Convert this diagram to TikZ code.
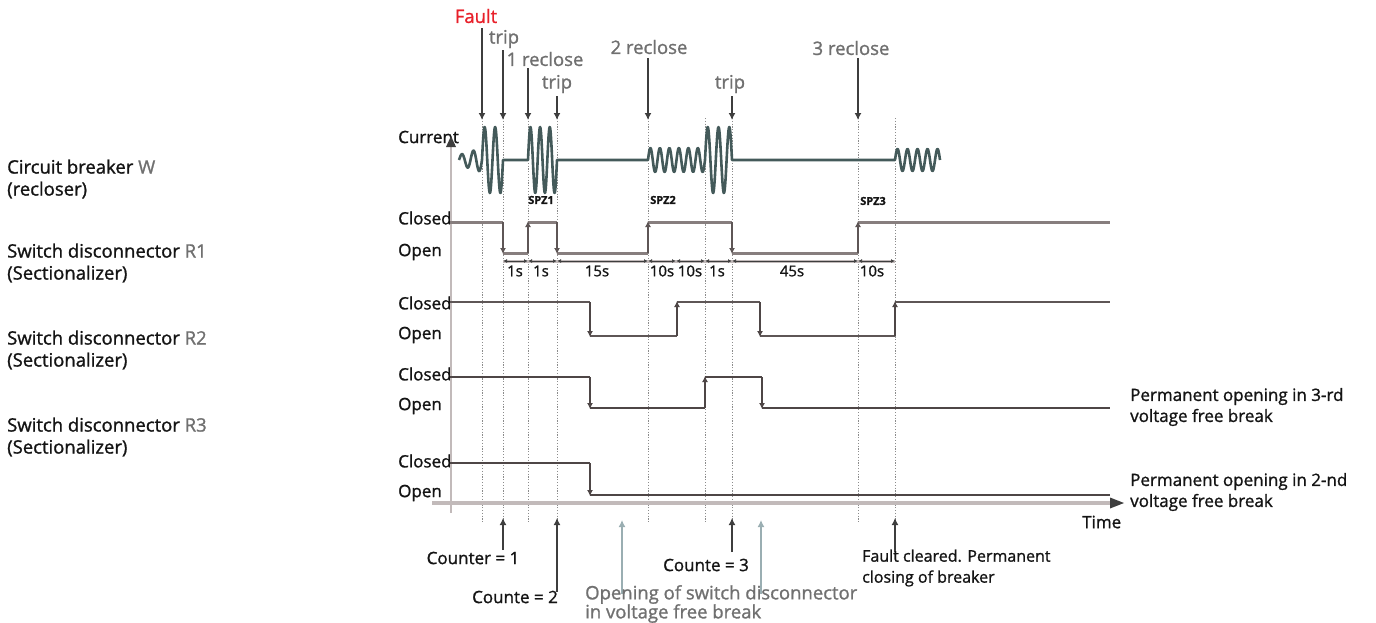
\documentclass[tikz,border=0pt]{standalone}
\usepackage{fontspec}
\setmainfont{Open Sans}[FakeBold=1.2]
\usetikzlibrary{arrows.meta}
\definecolor{txt}{HTML}{141414}
\definecolor{lbl}{HTML}{707070}
\definecolor{faultred}{HTML}{E8202A}
\definecolor{wave}{HTML}{445A5A}
\definecolor{axisgray}{HTML}{C2BABA}
\definecolor{dotgray}{HTML}{8C8C8C}
\definecolor{rowA}{HTML}{877E7E}
\definecolor{rowB}{HTML}{5E5656}
\definecolor{rowC}{HTML}{4E4646}
\definecolor{arrdark}{HTML}{3E3E3E}
\definecolor{openblue}{HTML}{9AAEB2}
\tikzset{
  lab/.style={font=\fontsize{17}{21}\selectfont, text=txt, inner sep=0pt, align=left},
  biglab/.style={font=\fontsize{18.5}{22}\selectfont, text=txt, inner sep=0pt, align=left},
  evlab/.style={font=\fontsize{18.5}{22}\selectfont, text=lbl, inner sep=0pt},
  small/.style={font=\fontsize{15}{18}\selectfont, text=txt, inner sep=0pt},
  spz/.style={font=\fontsize{11}{13}\selectfont\bfseries, text=txt, inner sep=0pt},
  dotline/.style={dotgray, line width=0.9pt, dash pattern=on 1.2pt off 1.6pt},
  evarrow/.style={arrdark, line width=2.2pt, -{Latex[length=7pt,width=7pt]}},
  uparrow/.style={arrdark, line width=2.2pt, -{Latex[length=7pt,width=7pt]}},
  statearr/.style={line width=2pt, -{Latex[length=6pt,width=6pt]}},
  tarr/.style={axisgray, line width=3pt},
  ttip/.style={arrdark, line width=0.6pt, {Latex[length=3.5pt,width=4pt]}-{Latex[length=3.5pt,width=4pt]}},
}
\begin{document}
\begin{tikzpicture}[x=1pt,y=-1pt]
\useasboundingbox (0,0) rectangle (1376,622);

% left labels
\node[biglab, anchor=west] (lw) at (7,179) {Circuit breaker {\color{lbl}W}\\(recloser)};
\node[biglab, anchor=west] (l1) at (7,263) {Switch disconnector {\color{lbl}R1}\\(Sectionalizer)};
\node[biglab, anchor=west] (l2) at (7,350) {Switch disconnector {\color{lbl}R2}\\(Sectionalizer)};
\node[biglab, anchor=west] (l3) at (7,437) {Switch disconnector {\color{lbl}R3}\\(Sectionalizer)};

% row labels
\node[lab, anchor=west] (cur) at (398,137) {Current};
\node[lab, anchor=west] (c0) at (398,218) {Closed};
\node[lab, anchor=west] (o0) at (398,252) {Open};
\node[lab, anchor=west] (c1) at (398,303) {Closed};
\node[lab, anchor=west] (o1) at (398,335) {Open};
\node[lab, anchor=west] (c2) at (398,374) {Closed};
\node[lab, anchor=west] (o2) at (398,406) {Open};
\node[lab, anchor=west] (c3) at (398,461) {Closed};
\node[lab, anchor=west] (o3) at (398,493) {Open};

% dotted verticals
\foreach \xx in {482,503,528,557,648,705,732,858,895}
  \draw[dotline] (\xx,118) -- (\xx,523);

% axes
\coordinate (ax0) at (451,513);
\coordinate (ax1) at (451,136);
\coordinate (tx0) at (432,503);
\coordinate (tx1) at (1124,503);
\draw[axisgray, line width=2.5pt] (ax0) -- (451,146);
\fill[arrdark] (451,136) -- (446,147) -- (456,147) -- cycle;
\draw[axisgray, line width=3.5pt] (tx0) -- (1112,503);
\fill[arrdark] (1124,503) -- (1110,497.5) -- (1110,508.5) -- cycle;
\node[lab, anchor=west] (time) at (1082,522) {Time};

% current waveform
\draw[wave, line width=2.6pt, line join=round]
  plot[domain=459:482, samples=60] (\x, {160 - (5+0.3043*(\x-459))*sin((\x-459)*31.304)})
  -- plot[domain=482:503, samples=60] (\x, {160 - 33*sin((\x-482)*34.286)})
  -- (528,160)
  -- plot[domain=528:557, samples=80] (\x, {160 - 33*sin((\x-528)*37.241)})
  -- (648,160)
  -- plot[domain=648:705, samples=150] (\x, {160 - 12*sin((\x-648)*37.895)})
  -- plot[domain=705:732, samples=80] (\x, {160 - 33*sin((\x-705)*33.333)})
  -- (895,160)
  -- plot[domain=895:940, samples=120] (\x, {160 - 11*sin((\x-895)*36)});

% event arrows (top)
\node[font=\fontsize{18.5}{22}\selectfont, text=faultred, inner sep=0pt] (ef) at (476,16) {Fault};
\node[evlab] (et1) at (504,39) {trip};
\node[evlab] (er1) at (545,59) {1 reclose};
\node[evlab] (et2) at (557,84) {trip};
\node[evlab] (er2) at (649,47) {2 reclose};
\node[evlab] (et3) at (730,84) {trip};
\node[evlab] (er3) at (851,48) {3 reclose};
\draw[evarrow] (482,28) -- (482,120);
\draw[evarrow] (503,50) -- (503,120);
\draw[evarrow] (528,68) -- (528,120);
\draw[evarrow] (557,96) -- (557,120);
\draw[evarrow] (648,58) -- (648,120);
\draw[evarrow] (732,96) -- (732,120);
\draw[evarrow] (858,58) -- (858,120);

% SPZ labels
\node[spz] (s1) at (541,200) {SPZ1};
\node[spz] (s2) at (663,200) {SPZ2};
\node[spz] (s3) at (873,201) {SPZ3};

% breaker W row
\draw[rowA, line width=3pt, line join=miter]
  (450,222) -- (503,222) (503,253) -- (528,253) (528,222) -- (557,222) (557,253) -- (648,253)
  (648,222) -- (732,222) (732,253) -- (858,253) (858,222) -- (1110,222);
\draw[statearr, rowB] (503,222) -- (503,254);
\draw[statearr, rowB] (528,253) -- (528,221);
\draw[statearr, rowB] (557,222) -- (557,254);
\draw[statearr, rowB] (648,253) -- (648,221);
\draw[statearr, rowB] (732,222) -- (732,254);
\draw[statearr, rowB] (858,253) -- (858,221);

% timing row
\foreach \a/\b in {503/528,528/557,557/648,648/676,676/705,705/732,732/858,858/895}
  \draw[tarr] (\a,261) -- (\b,261);
\foreach \a/\b in {503/528,528/557,557/648,648/676,676/705,705/732,732/858,858/895}
  \draw[ttip] (\a+0.5,261) -- (\b-0.5,261);
\node[small] (t1) at (515,271) {1s};
\node[small] (t2) at (541,271) {1s};
\node[small] (t3) at (597,271) {15s};
\node[small] (t4) at (662,271) {10s};
\node[small] (t5) at (690,271) {10s};
\node[small] (t6) at (717,271) {1s};
\node[small] (t7) at (792,271) {45s};
\node[small] (t8) at (872,271) {10s};

% R1 row
\draw[rowB, line width=2.4pt]
  (450,302) -- (590,302) (590,336) -- (677,336) (677,302) -- (760,302) (760,336) -- (895,336) (895,302) -- (1110,302);
\draw[statearr, rowC] (590,302) -- (590,337);
\draw[statearr, rowC] (677,336) -- (677,301);
\draw[statearr, rowC] (760,302) -- (760,337);
\draw[statearr, rowC] (895,336) -- (895,301);

% R2 row
\draw[rowC, line width=2.2pt]
  (450,377) -- (590,377) (590,408) -- (705,408) (705,377) -- (762,377) (762,408) -- (1110,408);
\draw[statearr, rowC] (590,377) -- (590,409);
\draw[statearr, rowC] (705,408) -- (705,376);
\draw[statearr, rowC] (762,377) -- (762,409);

% R3 row
\draw[rowC, line width=2.2pt]
  (450,463) -- (590,463) (590,495) -- (1110,495);
\draw[statearr, rowC] (590,463) -- (590,496);

% right labels
\node[lab, anchor=west] (p3) at (1130,407) {Permanent opening in 3-rd\\voltage free break};
\node[lab, anchor=west] (p2) at (1130,492) {Permanent opening in 2-nd\\voltage free break};

% bottom arrows
\draw[uparrow] (503,550) -- (503,518);
\draw[uparrow] (557,592) -- (557,518);
\draw[uparrow] (732,552) -- (732,518);
\draw[uparrow] (895,552) -- (895,518);
\draw[openblue, line width=2.2pt, -{Latex[length=7pt,width=7pt]}] (622,594) -- (622,520);
\draw[openblue, line width=2.2pt, -{Latex[length=7pt,width=7pt]}] (761,594) -- (761,520);

\node[lab] (k1) at (473,558) {Counter = 1};
\node[lab] (k2) at (515,597) {Counte = 2};
\node[lab] (k3) at (706,565) {Counte = 3};
\node[font=\fontsize{16}{21}\selectfont, text=txt, inner sep=0pt, align=left, anchor=west] (fc) at (862,568) {Fault cleared. Permanent\\closing of breaker};
\node[font=\fontsize{18.5}{19}\selectfont, text=lbl, inner sep=0pt, align=left, anchor=west] (ov) at (585,604) {Opening of switch disconnector\\in voltage free break};
\end{tikzpicture}
\end{document}
